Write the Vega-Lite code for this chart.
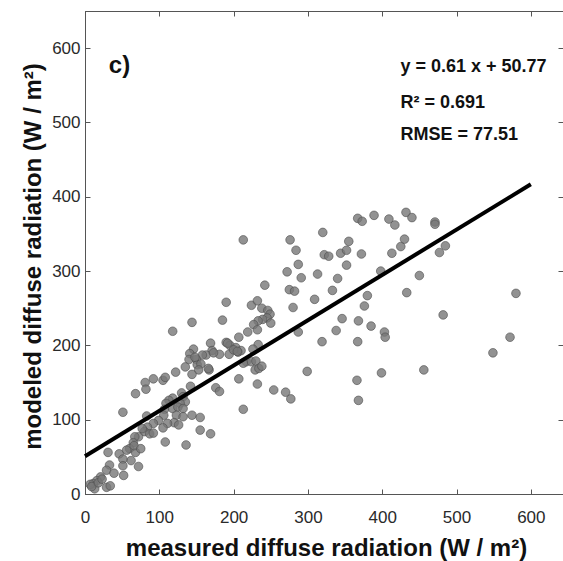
{
  "$schema": "https://vega.github.io/schema/vega-lite/v6.json",
  "autosize": {"type": "none"},
  "padding": {"left": 85, "top": 11, "right": 0, "bottom": 67},
  "width": 478,
  "height": 483,
  "background": "white",
  "config": {
    "view": {"stroke": "#555555", "strokeWidth": 1},
    "font": "Liberation Sans",
    "axis": {
      "domainColor": "#555555",
      "tickColor": "#555555",
      "tickSize": -5,
      "grid": false,
      "labelFont": "Liberation Sans",
      "labelFontSize": 17,
      "labelColor": "#2a2a2a",
      "labelFlush": false,
      "titleFont": "Liberation Sans",
      "titleFontSize": 24,
      "titleFontWeight": "bold",
      "titleColor": "#111111"
    }
  },
  "datasets": {
    "pts": [
      {"measured":213,"modeled":342},{"measured":276,"modeled":342},{"measured":284,"modeled":328},{"measured":272,"modeled":299},
      {"measured":287,"modeled":309},{"measured":291,"modeled":291},{"measured":320,"modeled":352},{"measured":322,"modeled":322},
      {"measured":328,"modeled":320},{"measured":313,"modeled":296},{"measured":340,"modeled":290},{"measured":344,"modeled":324},
      {"measured":352,"modeled":328},{"measured":355,"modeled":340},{"measured":352,"modeled":308},{"measured":367,"modeled":371},
      {"measured":373,"modeled":367},{"measured":372,"modeled":323},{"measured":389,"modeled":375},{"measured":409,"modeled":370},
      {"measured":417,"modeled":362},{"measured":413,"modeled":324},{"measured":425,"modeled":333},{"measured":430,"modeled":343},
      {"measured":432,"modeled":379},{"measured":440,"modeled":372},{"measured":398,"modeled":300},{"measured":450,"modeled":294},
      {"measured":471,"modeled":366},{"measured":471,"modeled":363},{"measured":485,"modeled":334},{"measured":477,"modeled":325},
      {"measured":242,"modeled":281},{"measured":275,"modeled":275},{"measured":282,"modeled":273},{"measured":333,"modeled":274},
      {"measured":309,"modeled":262},{"measured":380,"modeled":267},{"measured":376,"modeled":253},{"measured":433,"modeled":271},
      {"measured":580,"modeled":270},{"measured":482,"modeled":241},{"measured":346,"modeled":236},{"measured":338,"modeled":220},
      {"measured":368,"modeled":233},{"measured":385,"modeled":226},{"measured":403,"modeled":218},{"measured":404,"modeled":211},
      {"measured":367,"modeled":205},{"measured":319,"modeled":205},{"measured":287,"modeled":218},{"measured":280,"modeled":251},
      {"measured":254,"modeled":140},{"measured":270,"modeled":137},{"measured":277,"modeled":128},{"measured":299,"modeled":165},
      {"measured":366,"modeled":153},{"measured":368,"modeled":126},{"measured":399,"modeled":163},{"measured":456,"modeled":167},
      {"measured":549,"modeled":190},{"measured":572,"modeled":211},{"measured":213,"modeled":114},
      {"measured":190,"modeled":258},{"measured":224,"modeled":254},{"measured":232,"modeled":260},{"measured":238,"modeled":250},
      {"measured":246,"modeled":247},{"measured":249,"modeled":242},{"measured":245,"modeled":237},{"measured":250,"modeled":230},
      {"measured":239,"modeled":235},{"measured":233,"modeled":233},{"measured":227,"modeled":228},{"measured":232,"modeled":221},
      {"measured":219,"modeled":218},{"measured":185,"modeled":234},{"measured":144,"modeled":231},{"measured":118,"modeled":219},
      {"measured":207,"modeled":211},{"measured":169,"modeled":203},{"measured":190,"modeled":204},{"measured":195,"modeled":200},
      {"measured":203,"modeled":197},{"measured":206,"modeled":191},{"measured":210,"modeled":193},{"measured":194,"modeled":188},
      {"measured":181,"modeled":188},{"measured":171,"modeled":193},{"measured":163,"modeled":187},{"measured":158,"modeled":187},
      {"measured":146,"modeled":195},{"measured":141,"modeled":189},{"measured":140,"modeled":181},{"measured":150,"modeled":181},
      {"measured":151,"modeled":174},{"measured":156,"modeled":175},{"measured":153,"modeled":167},{"measured":167,"modeled":167},
      {"measured":135,"modeled":171},{"measured":144,"modeled":161},{"measured":122,"modeled":164},{"measured":207,"modeled":155},
      {"measured":217,"modeled":178},{"measured":224,"modeled":178},{"measured":230,"modeled":179},{"measured":233,"modeled":201},
      {"measured":226,"modeled":195},{"measured":213,"modeled":176},{"measured":229,"modeled":167},{"measured":232,"modeled":148},
      {"measured":234,"modeled":169},{"measured":238,"modeled":172},{"measured":176,"modeled":143},{"measured":181,"modeled":138},
      {"measured":105,"modeled":153},{"measured":108,"modeled":157},{"measured":92,"modeled":155},{"measured":81,"modeled":150},
      {"measured":82,"modeled":141},{"measured":68,"modeled":135},{"measured":142,"modeled":145},{"measured":130,"modeled":136},
      {"measured":132,"modeled":131},{"measured":135,"modeled":124},{"measured":128,"modeled":122},{"measured":118,"modeled":129},
      {"measured":113,"modeled":126},{"measured":109,"modeled":122},{"measured":107,"modeled":114},{"measured":118,"modeled":115},
      {"measured":125,"modeled":117},{"measured":132,"modeled":115},{"measured":123,"modeled":106},{"measured":106,"modeled":106},
      {"measured":132,"modeled":104},{"measured":144,"modeled":106},{"measured":155,"modeled":103},{"measured":155,"modeled":86},
      {"measured":169,"modeled":81},{"measured":120,"modeled":96},{"measured":111,"modeled":95},{"measured":126,"modeled":93},
      {"measured":105,"modeled":89},{"measured":108,"modeled":70},{"measured":136,"modeled":66},{"measured":99,"modeled":99},
      {"measured":92,"modeled":95},{"measured":84,"modeled":90},{"measured":80,"modeled":84},{"measured":83,"modeled":105},
      {"measured":87,"modeled":81},{"measured":77,"modeled":88},{"measured":92,"modeled":82},{"measured":72,"modeled":77},
      {"measured":67,"modeled":77},{"measured":65,"modeled":69},{"measured":60,"modeled":61},{"measured":68,"modeled":56},
      {"measured":66,"modeled":65},{"measured":75,"modeled":61},{"measured":56,"modeled":59},{"measured":46,"modeled":54},
      {"measured":62,"modeled":45},{"measured":72,"modeled":37},{"measured":51,"modeled":47},{"measured":51,"modeled":110},
      {"measured":51,"modeled":38},{"measured":31,"modeled":56},{"measured":33,"modeled":39},{"measured":29,"modeled":32},
      {"measured":39,"modeled":28},{"measured":52,"modeled":25},{"measured":21,"modeled":23},{"measured":16,"modeled":18},
      {"measured":11,"modeled":14},{"measured":13,"modeled":7},{"measured":29,"modeled":9},{"measured":34,"modeled":11},
      {"measured":7,"modeled":13},{"measured":192,"modeled":203},{"measured":200,"modeled":194},{"measured":173,"modeled":190},
      {"measured":166,"modeled":169},{"measured":148,"modeled":184},{"measured":205,"modeled":192},{"measured":9,"modeled":10},
      {"measured":18,"modeled":15},{"measured":23,"modeled":20}
    ],
    "fit": [
      {"measured": 0, "modeled": 50.77},
      {"measured": 600, "modeled": 416.77}
    ],
    "notes": [
      {"label": "y = 0.61 x + 50.77", "measured": 424.5, "modeled": 568},
      {"label": "R² = 0.691", "measured": 424.5, "modeled": 519.5},
      {"label": "RMSE = 77.51", "measured": 424.5, "modeled": 476.4}
    ],
    "panel": [
      {"label": "c)", "measured": 32, "modeled": 567}
    ]
  },
  "layer": [
    {
      "data": {"name": "pts"},
      "mark": {"type": "point", "shape": "circle", "filled": true, "size": 75, "fill": "#777777", "fillOpacity": 0.8, "stroke": "#4d4d4d", "strokeWidth": 1, "strokeOpacity": 0.6},
      "encoding": {
        "x": {"field": "measured", "type": "quantitative",
              "scale": {"domain": [0, 643.3], "nice": false, "zero": false},
              "axis": {"orient": "bottom", "values": [0,100,200,300,400,500,600], "labelPadding": 20,
                       "title": "measured diffuse radiation (W / m²)", "titleX": 241, "titleY": 61, "titleBaseline": "alphabetic"}},
        "y": {"field": "modeled", "type": "quantitative",
              "scale": {"domain": [0, 650], "nice": false, "zero": false},
              "axis": {"orient": "left", "values": [0,100,200,300,400,500,600], "labelPadding": 10,
                       "title": "modeled diffuse radiation (W / m²)", "titleX": -45, "titleY": 245, "titleBaseline": "alphabetic", "titleAngle": -90}}
      }
    },
    {
      "data": {"name": "fit"},
      "mark": {"type": "line", "color": "#000000", "strokeWidth": 4},
      "encoding": {
        "x": {"field": "measured", "type": "quantitative",
              "axis": {"orient": "top", "values": [0,100,200,300,400,500,600], "labels": false, "title": null}},
        "y": {"field": "modeled", "type": "quantitative",
              "axis": {"orient": "right", "values": [0,100,200,300,400,500,600], "labels": false, "title": null}}
      }
    },
    {
      "data": {"name": "panel"},
      "mark": {"type": "text", "align": "left", "baseline": "alphabetic", "fontSize": 24, "fontWeight": "bold", "color": "#111111"},
      "encoding": {
        "text": {"field": "label"},
        "x": {"field": "measured", "type": "quantitative", "axis": null},
        "y": {"field": "modeled", "type": "quantitative", "axis": null}
      }
    },
    {
      "data": {"name": "notes"},
      "mark": {"type": "text", "align": "left", "baseline": "alphabetic", "fontSize": 18, "fontWeight": "bold", "color": "#111111"},
      "encoding": {
        "text": {"field": "label"},
        "x": {"field": "measured", "type": "quantitative", "axis": null},
        "y": {"field": "modeled", "type": "quantitative", "axis": null}
      }
    }
  ],
  "resolve": {"axis": {"x": "independent", "y": "independent"}}
}
